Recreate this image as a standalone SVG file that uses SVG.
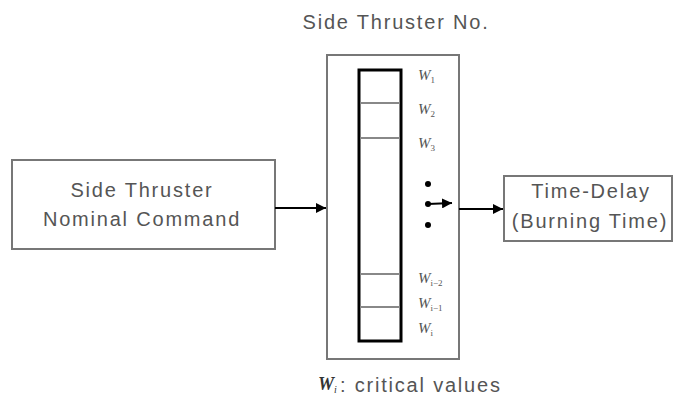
<svg xmlns="http://www.w3.org/2000/svg" width="674" height="410" viewBox="0 0 674 410">
<defs>
<style>
.box{fill:#fff;stroke:#777;stroke-width:2}
.lbl{font-family:"Liberation Sans",Arial,sans-serif;font-size:20px;fill:#555;letter-spacing:1.8px;text-anchor:middle}
.w{font-family:"Liberation Serif","Times New Roman",serif;font-style:italic;font-size:15px;fill:#555}
.w tspan.s{font-size:9px;font-style:normal}
.ln{stroke:#000;stroke-width:2;fill:none}
.div{stroke:#888;stroke-width:2}
</style>
<marker id="ahb" viewBox="0 0 10 10" refX="10" refY="5" markerWidth="10" markerHeight="10" orient="auto" markerUnits="userSpaceOnUse">
<path d="M0,0 L10,5 L0,10 z" fill="#000"/>
</marker>
</defs>
<rect width="674" height="410" fill="#fff"/>
<text x="396" y="29" class="lbl">Side Thruster No.</text>
<g id="cmd">
<rect class="box" x="12" y="160" width="263" height="89"/>
<text x="142" y="197" class="lbl">Side Thruster</text>
<text x="142" y="226" class="lbl">Nominal Command</text>
</g>
<g id="selector">
<rect class="box" x="327" y="55" width="132" height="304"/>
<rect x="359" y="70" width="42" height="271" fill="#fff" stroke="#000" stroke-width="3"/>
<line class="div" x1="360" y1="103" x2="400" y2="103"/>
<line class="div" x1="360" y1="138" x2="400" y2="138"/>
<line class="div" x1="360" y1="274" x2="400" y2="274"/>
<line class="div" x1="360" y1="307" x2="400" y2="307"/>
<text class="w" x="418" y="80">W<tspan class="s" dy="3">1</tspan></text>
<text class="w" x="418" y="114">W<tspan class="s" dy="3">2</tspan></text>
<text class="w" x="418" y="148">W<tspan class="s" dy="3">3</tspan></text>
<text class="w" x="418" y="283">W<tspan class="s" dy="3">i−2</tspan></text>
<text class="w" x="418" y="308">W<tspan class="s" dy="3">i−1</tspan></text>
<text class="w" x="418" y="333">W<tspan class="s" dy="3">i</tspan></text>
<circle cx="428" cy="184" r="3" fill="#000"/>
<circle cx="428" cy="204" r="3" fill="#000"/>
<circle cx="428" cy="225" r="3" fill="#000"/>
<line class="ln" x1="428" y1="204" x2="452" y2="203" marker-end="url(#ahb)"/>
</g>
<g id="delay">
<rect class="box" x="504" y="176" width="168" height="65"/>
<text x="591" y="198" class="lbl">Time-Delay</text>
<text x="590" y="228" class="lbl">(Burning Time)</text>
</g>
<g id="connectors">
<line class="ln" x1="275" y1="208" x2="326" y2="208" marker-end="url(#ahb)"/>
<line class="ln" x1="459" y1="209" x2="503" y2="209" marker-end="url(#ahb)"/>
</g>
<text x="318" y="390" font-family="Liberation Serif,serif" font-style="italic" font-weight="bold" font-size="18" fill="#333">W<tspan font-size="10" font-weight="normal" dy="3">i</tspan></text>
<text x="340" y="392" font-family="Liberation Sans,Arial,sans-serif" font-size="20" fill="#555" letter-spacing="1.8">: critical values</text>
</svg>
